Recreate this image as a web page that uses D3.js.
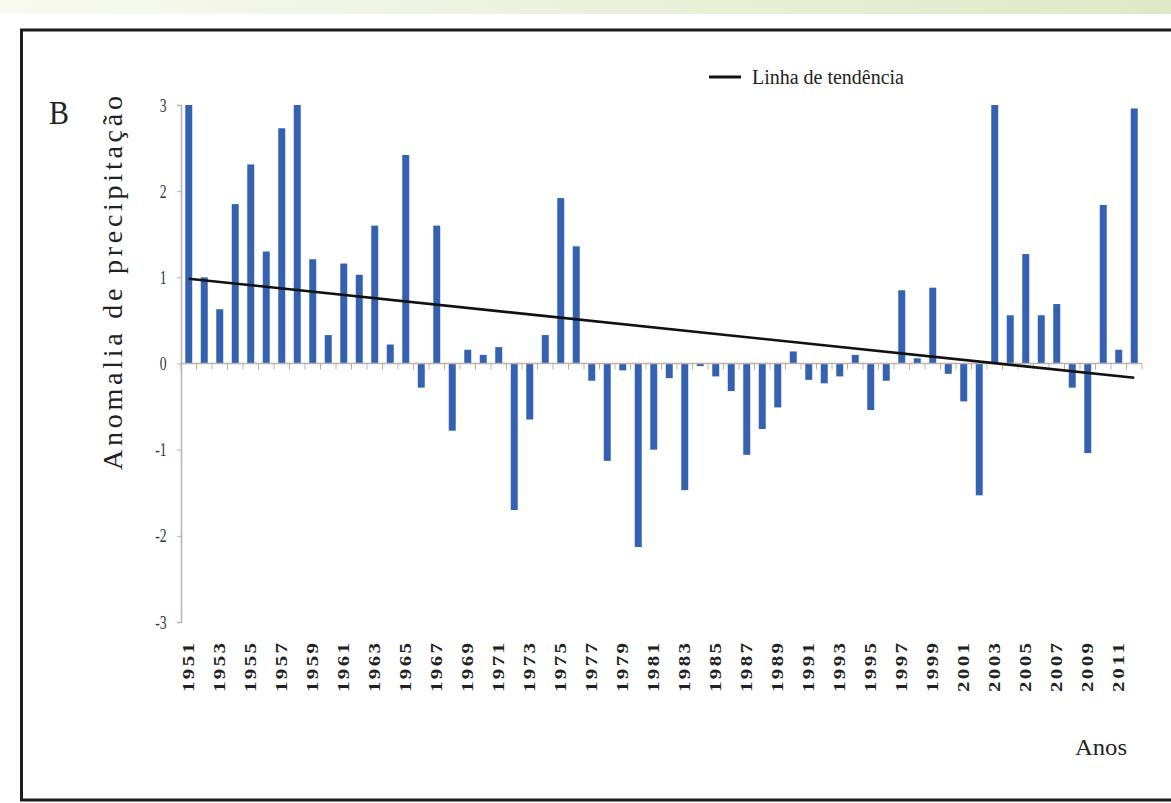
<!DOCTYPE html>
<html>
<head>
<meta charset="utf-8">
<script src="https://cdn.jsdelivr.net/npm/d3@7/dist/d3.min.js"></script>
<style>
  html, body { margin: 0; padding: 0; background: #fff; }
  svg { display: block; }
</style>
</head>
<body>
<svg id="chart" width="1171" height="803"></svg>
<script>
// Annual precipitation anomaly, 1951–2012
const years = d3.range(1951, 2013);
const anomalies = [
  3.00, 1.00, 0.63, 1.85, 2.31, 1.30, 2.73, 3.00, 1.21, 0.33,
  1.16, 1.03, 1.60, 0.22, 2.42, -0.28, 1.60, -0.78, 0.16, 0.10,
  0.19, -1.70, -0.65, 0.33, 1.92, 1.36, -0.20, -1.13, -0.08, -2.13,
  -1.00, -0.17, -1.47, -0.03, -0.15, -0.32, -1.06, -0.76, -0.51, 0.14,
  -0.19, -0.23, -0.15, 0.10, -0.54, -0.20, 0.85, 0.06, 0.88, -0.12,
  -0.44, -1.53, 3.00, 0.56, 1.27, 0.56, 0.69, -0.28, -1.04, 1.84,
  0.16, 2.96
];
const yTicks = [-3, -2, -1, 0, 1, 2, 3];
const yearLabels = years.filter((y, i) => i % 2 === 0);

const svg = d3.select("#chart");
const serif = "Liberation Serif, Times New Roman, serif";

// page decoration: light green band and the figure frame
const defs = svg.append("defs");
const grad = defs.append("linearGradient").attr("id", "band").attr("x1", 0).attr("x2", 1);
grad.append("stop").attr("offset", 0).attr("stop-color", "#f8faf1");
grad.append("stop").attr("offset", 1).attr("stop-color", "#dfe8c6");
svg.append("rect").attr("x", 0).attr("y", 0).attr("width", 1171).attr("height", 14).attr("fill", "url(#band)");
svg.append("rect").attr("x", 21.5).attr("y", 30).attr("width", 1160).attr("height", 770)
  .attr("fill", "#fff").attr("stroke", "#1c1c1c").attr("stroke-width", 3);

const plotLeft = 181, plotRight = 1142, plotTop = 105, plotBottom = 622;

const x = d3.scaleBand().domain(years).range([plotLeft, plotRight]).paddingInner(0.55).paddingOuter(0.275);
const y = d3.scaleLinear().domain([-3, 3]).range([plotBottom, plotTop]);

// y axis (plain hyphen for negatives)
const yAxis = d3.axisLeft(y).tickValues(yTicks).tickSize(4).tickPadding(9)
  .tickFormat(d => String(d));
const gy = svg.append("g").attr("transform", `translate(${plotLeft},0)`).call(yAxis);
gy.select(".domain").attr("stroke", "#b5b5b5").attr("stroke-width", 1.5);
gy.selectAll(".tick line").attr("stroke", "#b5b5b5");
gy.selectAll(".tick text")
  .attr("font-family", serif)
  .attr("font-size", 19)
  .attr("fill", "#333")
  .attr("transform", "scale(0.72,1)")
  .attr("x", -20);

// bars
svg.append("g").selectAll("rect").data(years).join("rect")
  .attr("x", d => x(d))
  .attr("width", x.bandwidth())
  .attr("y", (d, i) => y(Math.max(0, anomalies[i])))
  .attr("height", (d, i) => Math.abs(y(anomalies[i]) - y(0)))
  .attr("fill", "#3462b0");

// zero line with category boundary ticks
svg.append("line").attr("x1", plotLeft).attr("x2", plotRight).attr("y1", y(0)).attr("y2", y(0))
  .attr("stroke", "#b9b3ab").attr("stroke-width", 1.5);
const step = x.step();
const edges = d3.range(years.length + 1).map(i => plotLeft + i * step);
svg.append("g").selectAll("line").data(edges).join("line")
  .attr("x1", d => d).attr("x2", d => d)
  .attr("y1", y(0)).attr("y2", y(0) + 6)
  .attr("stroke", (d, i) => i % 2 ? "#d4a877" : "#bdb4aa").attr("stroke-width", 1);

// year labels, every second year
svg.append("g").selectAll("text").data(yearLabels).join("text")
  .attr("transform", d => `translate(${x(d) + x.bandwidth() / 2 + 5},643) rotate(-90) scale(1,0.78)`)
  .attr("text-anchor", "end")
  .attr("font-family", serif)
  .attr("font-weight", "bold")
  .attr("font-size", 21)
  .attr("fill", "#222")
  .attr("textLength", 49)
  .attr("lengthAdjust", "spacing")
  .text(d => d);

// least-squares trend line
const mx = d3.mean(years), my = d3.mean(anomalies);
const slope = d3.sum(years, (d, i) => (d - mx) * (anomalies[i] - my)) /
              d3.sum(years, d => (d - mx) * (d - mx));
const trend = yr => my + slope * (yr - mx);
const cx = d => x(d) + x.bandwidth() / 2;
svg.append("line")
  .attr("x1", cx(years[0])).attr("y1", y(trend(years[0])))
  .attr("x2", cx(years[years.length - 1])).attr("y2", y(trend(years[years.length - 1])))
  .attr("stroke", "#111").attr("stroke-width", 2.6);

// legend
svg.append("line").attr("x1", 709).attr("x2", 741).attr("y1", 77).attr("y2", 77)
  .attr("stroke", "#111").attr("stroke-width", 3);
svg.append("text").attr("x", 752).attr("y", 84)
  .attr("font-family", serif).attr("font-size", 20).attr("fill", "#222")
  .attr("textLength", 152).attr("lengthAdjust", "spacingAndGlyphs")
  .text("Linha de tendência");

// panel letter and axis titles
svg.append("text").attr("x", 49).attr("y", 124)
  .attr("font-family", serif).attr("font-size", 34).attr("fill", "#222")
  .attr("textLength", 20).attr("lengthAdjust", "spacingAndGlyphs")
  .text("B");
svg.append("text")
  .attr("transform", "translate(122,283) rotate(-90)")
  .attr("text-anchor", "middle")
  .attr("font-family", serif).attr("font-size", 28).attr("fill", "#222")
  .attr("textLength", 374).attr("lengthAdjust", "spacing")
  .text("Anomalia de precipitação");
svg.append("text").attr("x", 1127).attr("y", 755).attr("text-anchor", "end")
  .attr("font-family", serif).attr("font-size", 24).attr("fill", "#222")
  .attr("textLength", 52).attr("lengthAdjust", "spacingAndGlyphs")
  .text("Anos");
</script>
</body>
</html>
